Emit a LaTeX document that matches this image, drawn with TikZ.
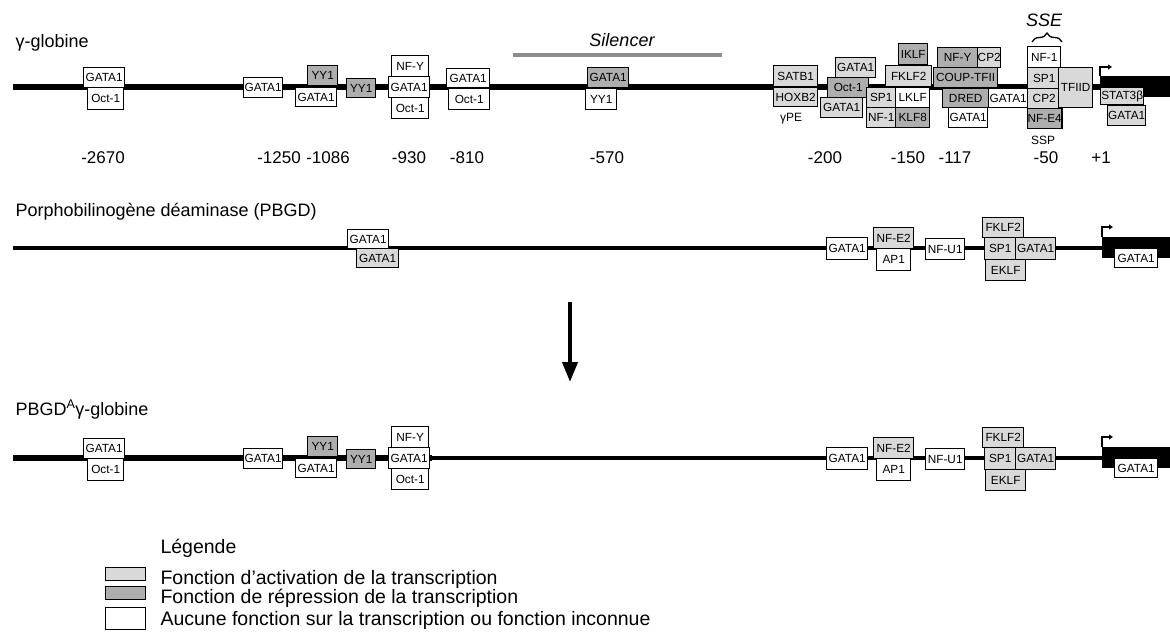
\documentclass[tikz,border=0pt]{standalone}
\usepackage{fontspec}
\setmainfont{Liberation Sans}
\usetikzlibrary{decorations.pathreplacing,arrows.meta}
\definecolor{act}{HTML}{D9D9D9}
\definecolor{rep}{HTML}{AEAEAE}
\tikzset{
  tf/.style={draw=black, line width=1.4pt, inner sep=0pt, anchor=north west,
    font=\fontsize{11.8}{12}\selectfont},
  noneF/.style={tf, fill=white},
  actF/.style={tf, fill=act},
  repF/.style={tf, fill=rep},
  dna/.style={line width=6.5pt, black},
  dnathin/.style={line width=4.5pt, black},
  gene/.style={fill=black, inner sep=0pt, anchor=north west},
  tss/.style={line width=1.2pt, -{Triangle[length=4pt,width=5pt]}},
  rowlab/.style={anchor=base west, font=\fontsize{18}{20}\selectfont},
  posnum/.style={anchor=base, font=\fontsize{17}{19}\selectfont},
  small/.style={anchor=base, font=\fontsize{12}{14}\selectfont},
  legtxt/.style={anchor=base west, font=\fontsize{19.5}{21}\selectfont},
}
\newcommand\bx[7]{\node[#6, minimum width={(#4-#2)*1pt}, minimum height={(#5-#3)*1pt}] (#1) at (#2,#3) {#7};}
\begin{document}
\begin{tikzpicture}[x=1pt,y=-1pt]
\useasboundingbox (0,0) rectangle (1170,636);

% ================= Row 1 : gamma-globine =================
\node[rowlab] (lab1) at (12,48) {γ-globine};
\coordinate (l1a) at (13,87); \coordinate (l1b) at (1102,87);
\draw[dna] (l1a) -- (l1b);
\node[gene, minimum width=70pt, minimum height=21pt] (gene1) at (1100,76) {};
\coordinate (t1) at (1112,67);
\draw[tss] (gene1.north west) |- (t1);

\node[font=\fontsize{18}{20}\selectfont\itshape] (sil) at (622,40) {Silencer};
\coordinate (sa) at (513,55); \coordinate (sb) at (722,55);
\draw[line width=3.5pt, black!45] (sa) -- (sb);

\node[font=\fontsize{18}{20}\selectfont\itshape] (sse) at (1044,20) {SSE};
\coordinate (ba) at (1032,42); \coordinate (bb) at (1062,42);
\draw[line width=1.3pt, decorate, decoration={brace, amplitude=9pt}] (ba) -- (bb);

\bx{r1g1}{83}{67}{124}{87}{noneF}{GATA1}
\bx{r1o1}{87}{87}{123}{109}{noneF}{Oct-1}
\bx{r1g2}{243}{77}{282}{97}{noneF}{GATA1}
\bx{r1y1}{307}{65}{337}{85}{repF}{YY1}
\bx{r1g3}{295}{87}{336}{106}{noneF}{GATA1}
\bx{r1y2}{346}{78}{375}{97}{repF}{YY1}
\bx{r1nfy}{391}{55}{428}{76}{noneF}{NF-Y}
\bx{r1g4}{388}{76}{429}{97}{noneF}{GATA1}
\bx{r1o2}{391}{97}{428}{118}{noneF}{Oct-1}
\bx{r1g5}{446}{68}{489}{87}{noneF}{GATA1}
\bx{r1o3}{448}{88}{489}{109}{noneF}{Oct-1}
\bx{r1g6}{587}{67}{628}{87}{repF}{GATA1}
\bx{r1yy}{585}{88}{616}{109}{noneF}{YY1}
\bx{r1satb}{773}{65}{817}{86}{actF}{SATB1}
\bx{r1hox}{773}{87}{817}{106}{actF}{HOXB2}
\node[small] (gpe) at (791,122) {γPE};
\bx{r1g7}{835}{57}{875}{77}{actF}{GATA1}
\bx{r1oct}{827}{77}{868}{97}{repF}{Oct-1}
\bx{r1g8}{820}{97}{862}{117}{actF}{GATA1}
\bx{r1iklf}{898}{43}{927}{64}{repF}{IKLF}
\bx{r1fklf}{885}{65}{931}{86}{actF}{FKLF2}
\bx{r1sp1}{866}{87}{895}{107}{actF}{SP1}
\bx{r1lklf}{895}{87}{929}{107}{noneF}{LKLF}
\bx{r1nf1}{866}{107}{895}{127}{actF}{NF-1}
\bx{r1klf8}{895}{107}{929}{127}{repF}{KLF8}
\bx{r1nfy2}{937}{47}{977}{67}{repF}{NF-Y}
\bx{r1cp2}{977}{47}{1000}{67}{actF}{CP2}
\bx{r1coup}{933}{67}{997}{87}{repF}{COUP-TFII}
\bx{r1dred}{942}{88}{988}{107}{repF}{DRED}
\bx{r1g9}{988}{88}{1027}{107}{noneF}{GATA1}
\bx{r1g10}{948}{107}{987}{127}{noneF}{GATA1}
\bx{r1nf1b}{1027}{46}{1060}{67}{noneF}{NF-1}
\bx{r1sp1b}{1027}{67}{1060}{88}{actF}{SP1}
\bx{r1cp2b}{1027}{88}{1060}{108}{actF}{CP2}
\bx{r1nfe4}{1027}{108}{1060}{128}{repF}{NF-E4}
\bx{r1tfiid}{1058}{67}{1092}{107}{actF}{TFIID}
\bx{r1stat}{1100}{87}{1143}{104}{actF}{STAT3β}
\bx{r1g11}{1107}{105}{1145}{125}{actF}{GATA1}
\node[small] (ssp) at (1043,145) {SSP};

\node[posnum] (p1) at (103,164) {-2670};
\node[posnum] (p2) at (279,164) {-1250};
\node[posnum] (p3) at (328,164) {-1086};
\node[posnum] (p4) at (409,164) {-930};
\node[posnum] (p5) at (467,164) {-810};
\node[posnum] (p6) at (607,164) {-570};
\node[posnum] (p7) at (825,164) {-200};
\node[posnum] (p8) at (908,164) {-150};
\node[posnum] (p9) at (955,164) {-117};
\node[posnum] (p10) at (1046,164) {-50};
\node[posnum] (p11) at (1101,164) {+1};

% ================= Row 2 : PBGD =================
\node[rowlab] (lab2) at (12,217) {Porphobilinogène déaminase (PBGD)};
\coordinate (l2a) at (13,248); \coordinate (l2b) at (1104,248);
\draw[dnathin] (l2a) -- (l2b);
\node[gene, minimum width=68pt, minimum height=21pt] (gene2) at (1102,237) {};
\coordinate (t2) at (1113,227);
\draw[tss] (gene2.north west) |- (t2);
\bx{r2g1}{347}{229}{388}{248}{noneF}{GATA1}
\bx{r2g2}{356}{248}{398}{267}{actF}{GATA1}
\bx{r2g3}{826}{237}{867}{259}{noneF}{GATA1}
\bx{r2nfe2}{873}{227}{913}{248}{actF}{NF-E2}
\bx{r2ap1}{876}{248}{910}{270}{noneF}{AP1}
\bx{r2nfu1}{925}{238}{964}{259}{noneF}{NF-U1}
\bx{r2fklf}{982}{217}{1023}{237}{actF}{FKLF2}
\bx{r2sp1}{984}{237}{1015}{259}{actF}{SP1}
\bx{r2g4}{1015}{237}{1055}{259}{actF}{GATA1}
\bx{r2eklf}{985}{259}{1025}{280}{actF}{EKLF}
\bx{r2g5}{1114}{248}{1157}{267}{noneF}{GATA1}

% ================= Arrow =================
\coordinate (aa) at (570,302); \coordinate (ab) at (570,382);
\draw[line width=4pt, -{Triangle[length=20pt,width=15pt]}] (aa) -- (ab);

% ================= Row 3 : PBGD^A gamma-globine =================
\node[rowlab] (lab3) at (12,415) {PBGD\textsuperscript{A}γ-globine};
\coordinate (l3a) at (13,458); \coordinate (l3m) at (432,458); \coordinate (l3b) at (1104,458);
\draw[dna] (l3a) -- (l3m);
\draw[dnathin] (l3m) -- (l3b);
\node[gene, minimum width=68pt, minimum height=21pt] (gene3) at (1102,447) {};
\coordinate (t3) at (1113,437);
\draw[tss] (gene3.north west) |- (t3);
\bx{r3g1}{83}{438}{124}{458}{noneF}{GATA1}
\bx{r3o1}{87}{458}{123}{480}{noneF}{Oct-1}
\bx{r3g2}{243}{448}{282}{468}{noneF}{GATA1}
\bx{r3y1}{307}{436}{337}{456}{repF}{YY1}
\bx{r3g3}{295}{458}{336}{477}{noneF}{GATA1}
\bx{r3y2}{346}{449}{375}{468}{repF}{YY1}
\bx{r3nfy}{391}{426}{428}{447}{noneF}{NF-Y}
\bx{r3g4}{388}{447}{429}{468}{noneF}{GATA1}
\bx{r3o2}{391}{468}{428}{489}{noneF}{Oct-1}
\bx{r3g5}{826}{447}{867}{469}{noneF}{GATA1}
\bx{r3nfe2}{873}{437}{913}{458}{actF}{NF-E2}
\bx{r3ap1}{876}{458}{910}{480}{noneF}{AP1}
\bx{r3nfu1}{925}{448}{964}{469}{noneF}{NF-U1}
\bx{r3fklf}{982}{427}{1023}{447}{actF}{FKLF2}
\bx{r3sp1}{984}{447}{1015}{469}{actF}{SP1}
\bx{r3g6}{1015}{447}{1055}{469}{actF}{GATA1}
\bx{r3eklf}{985}{469}{1025}{490}{actF}{EKLF}
\bx{r3g7}{1114}{458}{1157}{477}{noneF}{GATA1}

% ================= Legend =================
\node[legtxt] (leg) at (157,553) {Légende};
\node[actF, minimum width=40pt, minimum height=13pt] (s1) at (105,567) {};
\node[repF, minimum width=40pt, minimum height=13pt] (s2) at (105,586) {};
\node[noneF, minimum width=40pt, minimum height=22pt] (s3) at (105,607) {};
\node[legtxt] (t1l) at (157,584) {Fonction d'activation de la transcription};
\node[legtxt] (t2l) at (157,603) {Fonction de répression de la transcription};
\node[legtxt] (t3l) at (157,625) {Aucune fonction sur la transcription ou fonction inconnue};
\end{tikzpicture}
\end{document}
